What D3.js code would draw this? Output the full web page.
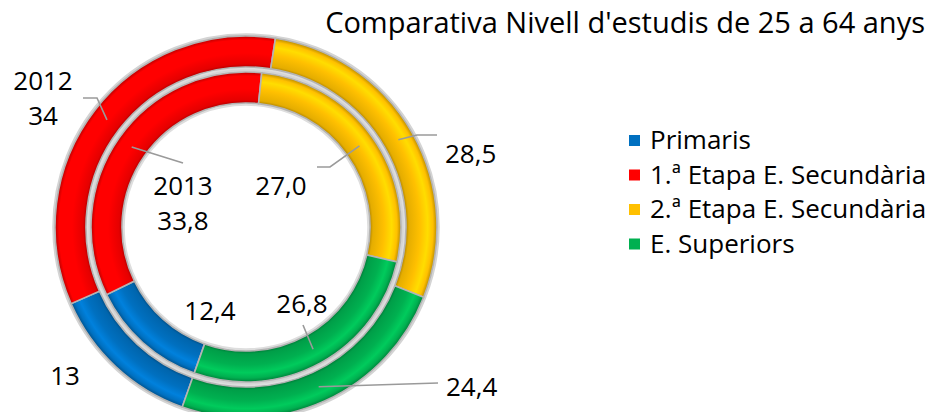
<!DOCTYPE html>
<html lang="ca">
  <head>
    <meta charset="UTF-8">
    <title>Comparativa Nivell d'estudis</title>
    <style>
body{
    margin: 0;
    background: #fff;
}
svg text{
    font-family: "Open Sans", Lato, sans-serif;
    fill: #000;
}
    </style>
  </head>
  <body>
    <script src="https://cdn.jsdelivr.net/npm/d3@7/dist/d3.min.js" charset="UTF-8"></script>
    <script>
// data
var categories = ["Primaris", "1.\u00aa Etapa E. Secund\u00e0ria", "2.\u00aa Etapa E. Secund\u00e0ria", "E. Superiors"];
var colors = ["#0070c0", "#ff0000", "#ffc000", "#00b050"];
var years = ["2012", "2013"];
var values2012 = [13, 34, 28.5, 24.4];
var values2013 = [12.4, 33.8, 27.0, 26.8];
var valueLabels2012 = ["13", "34", "28,5", "24,4"];
var valueLabels2013 = ["12,4", "33,8", "27,0", "26,8"];

var width = 936, height = 412;
var cx = 246, cy = 227;
var firstAngle = 199.5 * Math.PI / 180;

var svg = d3.select("body").append("svg")
            .attr("width", width)
            .attr("height", height);

var defs = svg.append("defs");

var rings = [
    {year: years[0], values: values2012, labels: valueLabels2012, r0: 160, r1: 191},
    {year: years[1], values: values2013, labels: valueLabels2013, r0: 124, r1: 155}
];

// bevel-like gradient for each ring and colour
function addGradient(id, color, r0, r1){
    var g = defs.append("radialGradient")
                .attr("id", id)
                .attr("gradientUnits", "userSpaceOnUse")
                .attr("cx", 0).attr("cy", 0).attr("r", r1);
    var c = d3.color(color);
    var stops = [
        [r0 / r1, c.darker(1.0)],
        [(r0 + 3) / r1, c.darker(0.3)],
        [(r0 + (r1 - r0) * 0.45) / r1, c],
        [(r0 + (r1 - r0) * 0.7) / r1, c.brighter(0.4)],
        [(r1 - 4) / r1, c],
        [1, c.darker(0.9)]
    ];
    stops.forEach(function(s){
        g.append("stop").attr("offset", s[0]).attr("stop-color", s[1].formatHex());
    });
}

var pie = d3.pie().sort(null).value(function(d){ return d; })
            .startAngle(firstAngle).endAngle(firstAngle + 2 * Math.PI);

var chart = svg.append("g").attr("transform", "translate(" + cx + "," + cy + ")");

var arcsData = [];
rings.forEach(function(ring, ri){
    var arc = d3.arc().innerRadius(ring.r0).outerRadius(ring.r1);
    var slices = pie(ring.values);
    // ring outline
    chart.append("circle").attr("r", ring.r1 + 1.5).attr("fill", "none")
         .attr("stroke", "#d4d4d4").attr("stroke-width", 2.5);
    chart.append("circle").attr("r", ring.r0 - 1.5).attr("fill", "none")
         .attr("stroke", "#dedede").attr("stroke-width", 2.5);
    slices.forEach(function(s, i){
        var gid = "g" + ri + "_" + i;
        addGradient(gid, colors[i], ring.r0, ring.r1);
        chart.append("path")
             .attr("d", arc(s))
             .attr("fill", "url(#" + gid + ")")
             .attr("stroke", "#b4b4b4")
             .attr("stroke-width", 1.6);
    });
    arcsData.push({arc: arc, slices: slices});
});

// label layout (offsets from chart centre), leader elbow points
var labelLayout = [
    // 2012 ring
    [
        {tx: -181, ty: 158, anchor: "middle", leader: null},
        {tx: -203, ty: -137, anchor: "middle", year: true, leader: [[-149, -129], [-163, -129]]},
        {tx: 199, ty: -64, anchor: "start", leader: [[171, -92], [191, -92]]},
        {tx: 200, ty: 169, anchor: "start", leader: [[192, 156]]}
    ],
    // 2013 ring
    [
        {tx: -36, ty: 93, anchor: "middle", leader: null},
        {tx: -63, ty: -32, anchor: "middle", year: true, leader: [[-63, -64]]},
        {tx: 35, ty: -32, anchor: "middle", leader: [[84, -60], [71, -60]]},
        {tx: 56, ty: 86, anchor: "middle", leader: [[57, 98]]}
    ]
];

var lineGen = d3.line();
rings.forEach(function(ring, ri){
    var ad = arcsData[ri];
    ad.slices.forEach(function(s, i){
        var lay = labelLayout[ri][i];
        if(lay.leader){
            var pts = [ad.arc.centroid(s)].concat(lay.leader);
            chart.append("path")
                 .attr("d", lineGen(pts))
                 .attr("fill", "none")
                 .attr("stroke", "#9a9a9a")
                 .attr("stroke-width", 1.6);
        }
        var t = chart.append("text")
                     .attr("x", lay.tx).attr("y", lay.ty)
                     .attr("text-anchor", lay.anchor)
                     .attr("font-size", 26);
        if(lay.year){
            t.append("tspan").attr("x", lay.tx).text(ring.year);
            t.append("tspan").attr("x", lay.tx).attr("dy", 35).text(ring.labels[i]);
        }else{
            t.text(ring.labels[i]);
        }
    });
});

// title
svg.append("text")
   .attr("x", 925).attr("y", 33)
   .attr("text-anchor", "end")
   .attr("font-size", 29)
   .text("Comparativa Nivell d'estudis de 25 a 64 anys");

// legend
var legend = svg.append("g").attr("transform", "translate(629,0)");
categories.forEach(function(c, i){
    var y = 140 + i * 34.5;
    legend.append("rect")
          .attr("x", 0).attr("y", y - 5)
          .attr("width", 11).attr("height", 11)
          .attr("fill", colors[i]);
    legend.append("text")
          .attr("x", 21).attr("y", y + 9)
          .attr("font-size", 26)
          .text(c);
});
    </script>
  </body>
</html>
